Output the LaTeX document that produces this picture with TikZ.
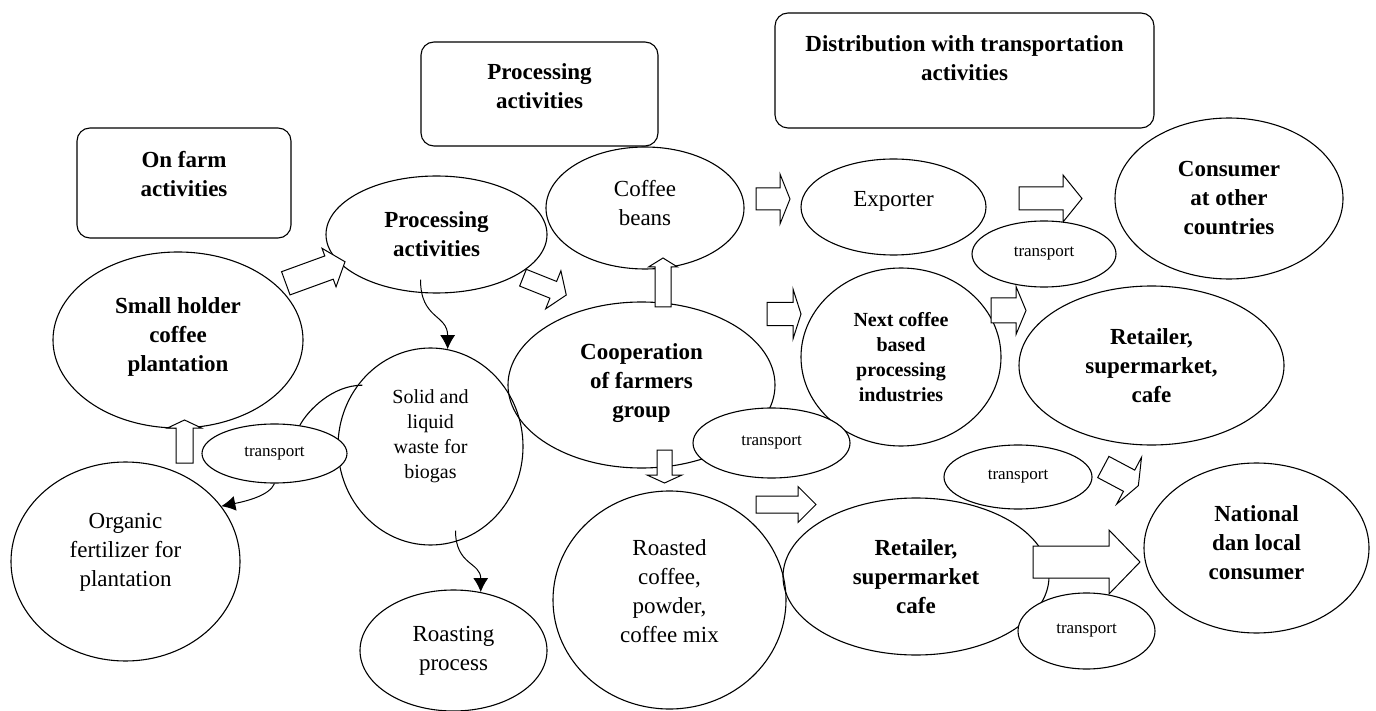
\documentclass[tikz,border=0pt]{standalone}
\usepackage{fontspec}
\setmainfont{Liberation Serif}
\usetikzlibrary{positioning}
\usetikzlibrary{shapes.geometric}
\usetikzlibrary{arrows.meta}

\begin{document}
\begin{tikzpicture}[x=1pt,y=-1pt,line width=1.1pt,
    hdr/.style={draw,rounded corners=13pt,align=center,font=\fontsize{23}{29}\selectfont\bfseries},
    bub/.style={draw,ellipse,inner sep=0pt,align=center,font=\fontsize{23}{29}\selectfont},
    bold/.style={font=\fontsize{23}{29}\selectfont\bfseries},
    smallbold/.style={font=\fontsize{20}{25}\selectfont\bfseries},
    small/.style={font=\fontsize{20}{25}\selectfont},
    trans/.style={draw,ellipse,fill=white,inner sep=0pt,font=\fontsize{17}{20}\selectfont},
    blk/.style={draw,fill=white,line width=1pt},
    flow/.style={-{Latex[length=14pt,width=15pt]},line width=1pt}]
\def\barrow#1#2#3#4#5#6;{%
    \begin{scope}[shift={#1},rotate=#2]
        \filldraw[blk] (0,-#4/2) -- (#3-#6,-#4/2) -- (#3-#6,-#5/2) -- (#3,0) --
            (#3-#6,#5/2) -- (#3-#6,#4/2) -- (0,#4/2) -- cycle;
    \end{scope}}
\useasboundingbox (0,0) rectangle (1376,711);

% stage headers
\node[hdr,minimum width=214pt,minimum height=110pt] (farmhdr) at (184,183) {On farm\\activities\\[-10pt]\mbox{}};
\node[hdr,minimum width=237pt,minimum height=104pt] (prochdr) at (539.5,94) {Processing\\activities\\[-13pt]\mbox{}};
\node[hdr,minimum width=379pt,minimum height=115pt] (disthdr) at (964.5,70.5) {Distribution with transportation\\activities\\[-4pt]\mbox{}};

% on farm
\node[bub,bold,minimum width=250pt,minimum height=176pt] (smallh) at (178,340) {Small holder\\coffee\\plantation\\[-19pt]\mbox{}};
\node[bub,minimum width=229pt,minimum height=199pt] (organic) at (125.5,561.5) {Organic\\fertilizer for\\plantation\\[-6pt]\mbox{}};

% processing
\node[bub,bold,minimum width=221pt,minimum height=117pt] (procact) at (436.5,234.5) {Processing\\activities};
\node[bub,small,minimum width=185pt,minimum height=197pt] (waste) at (430.5,446.5) {Solid and\\liquid\\waste for\\biogas\\\mbox{}};
\node[bub,minimum width=187pt,minimum height=121pt] (roasting) at (453.5,650.5) {Roasting\\process};
\node[bub,minimum width=198pt,minimum height=122pt] (coffee) at (645,208) {Coffee\\beans\\[-19pt]\mbox{}};
\node[bub,bold,minimum width=267pt,minimum height=166pt] (coop) at (641.5,385) {Cooperation\\of farmers\\group\\[-21pt]\mbox{}};
\node[bub,minimum width=233pt,minimum height=218pt] (roasted) at (669.5,600) {Roasted\\coffee,\\powder,\\coffee mix\\[-11pt]\mbox{}};

% distribution
\node[bub,minimum width=185pt,minimum height=96pt] (exporter) at (893.5,207) {Exporter\\[-13pt]\mbox{}};
\node[bub,smallbold,minimum width=200pt,minimum height=178pt] (nextc) at (901,357) {Next coffee\\based\\processing\\industries};
\node[bub,bold,minimum width=266pt,minimum height=157pt] (retail2) at (916,576.5) {Retailer,\\supermarket\\cafe};
\node[bub,bold,minimum width=228pt,minimum height=161pt] (consumer) at (1229,198.5) {Consumer\\at other\\countries};
\node[bub,bold,minimum width=265pt,minimum height=159pt] (retail1) at (1151.5,365.5) {Retailer,\\supermarket,\\cafe};
\node[bub,bold,minimum width=225pt,minimum height=170pt] (national) at (1256.5,548) {National\\dan local\\consumer\\[-19pt]\mbox{}};

% block arrows: tail, angle, length, shaft, head, head length
\barrow{(285.8,283.3)}{20}{63}{24.7}{41}{17};
\barrow{(523,277.7)}{-21.8}{46.6}{18}{41}{14};
\barrow{(663,307)}{90}{49}{16}{29}{9};
\barrow{(664.5,450)}{-90}{33}{15}{35}{8};
\barrow{(184.5,463)}{90}{43}{17}{34}{8};
\barrow{(756,199)}{0}{34}{22}{50}{10};
\barrow{(767,314)}{0}{34}{23}{50}{8};
\barrow{(1019,198.5)}{0}{63}{23}{47}{19};
\barrow{(991,310.5)}{0}{35}{25}{48}{10};
\barrow{(756,504.5)}{0}{60}{17}{36}{18};
\barrow{(1033,562)}{0}{107}{32}{64}{31};
\barrow{(1103.3,467)}{-28}{39.7}{24}{53}{10.5};

% transport
\node[trans,minimum width=145pt,minimum height=59pt] (transL) at (274.5,453.5) {transport};
\node[trans,minimum width=157pt,minimum height=70pt] (transM) at (771.5,443) {transport};
\node[trans,minimum width=144pt,minimum height=66pt] (transR1) at (1044,254) {transport};
\node[trans,minimum width=148pt,minimum height=64pt] (transR2) at (1018,477) {transport};
\node[trans,minimum width=137pt,minimum height=76pt] (transR3) at (1086.5,631) {transport};

% waste flows
\draw[flow] ([xshift=-16pt,yshift=14pt]procact.south) .. controls +(0,40) and +(0,-35) .. (waste.80);
\draw[flow] ([xshift=25pt,yshift=15pt]waste.south) .. controls +(0,35) and +(0,-30) .. (roasting.65);
\draw[flow] (transL.south) .. controls +(-5,12) and +(25,-5) .. (organic.30);
\draw ([xshift=5pt]waste.140) .. controls +(-30,0) and +(8,-15) .. (transL.48);

\end{tikzpicture}
\end{document}
